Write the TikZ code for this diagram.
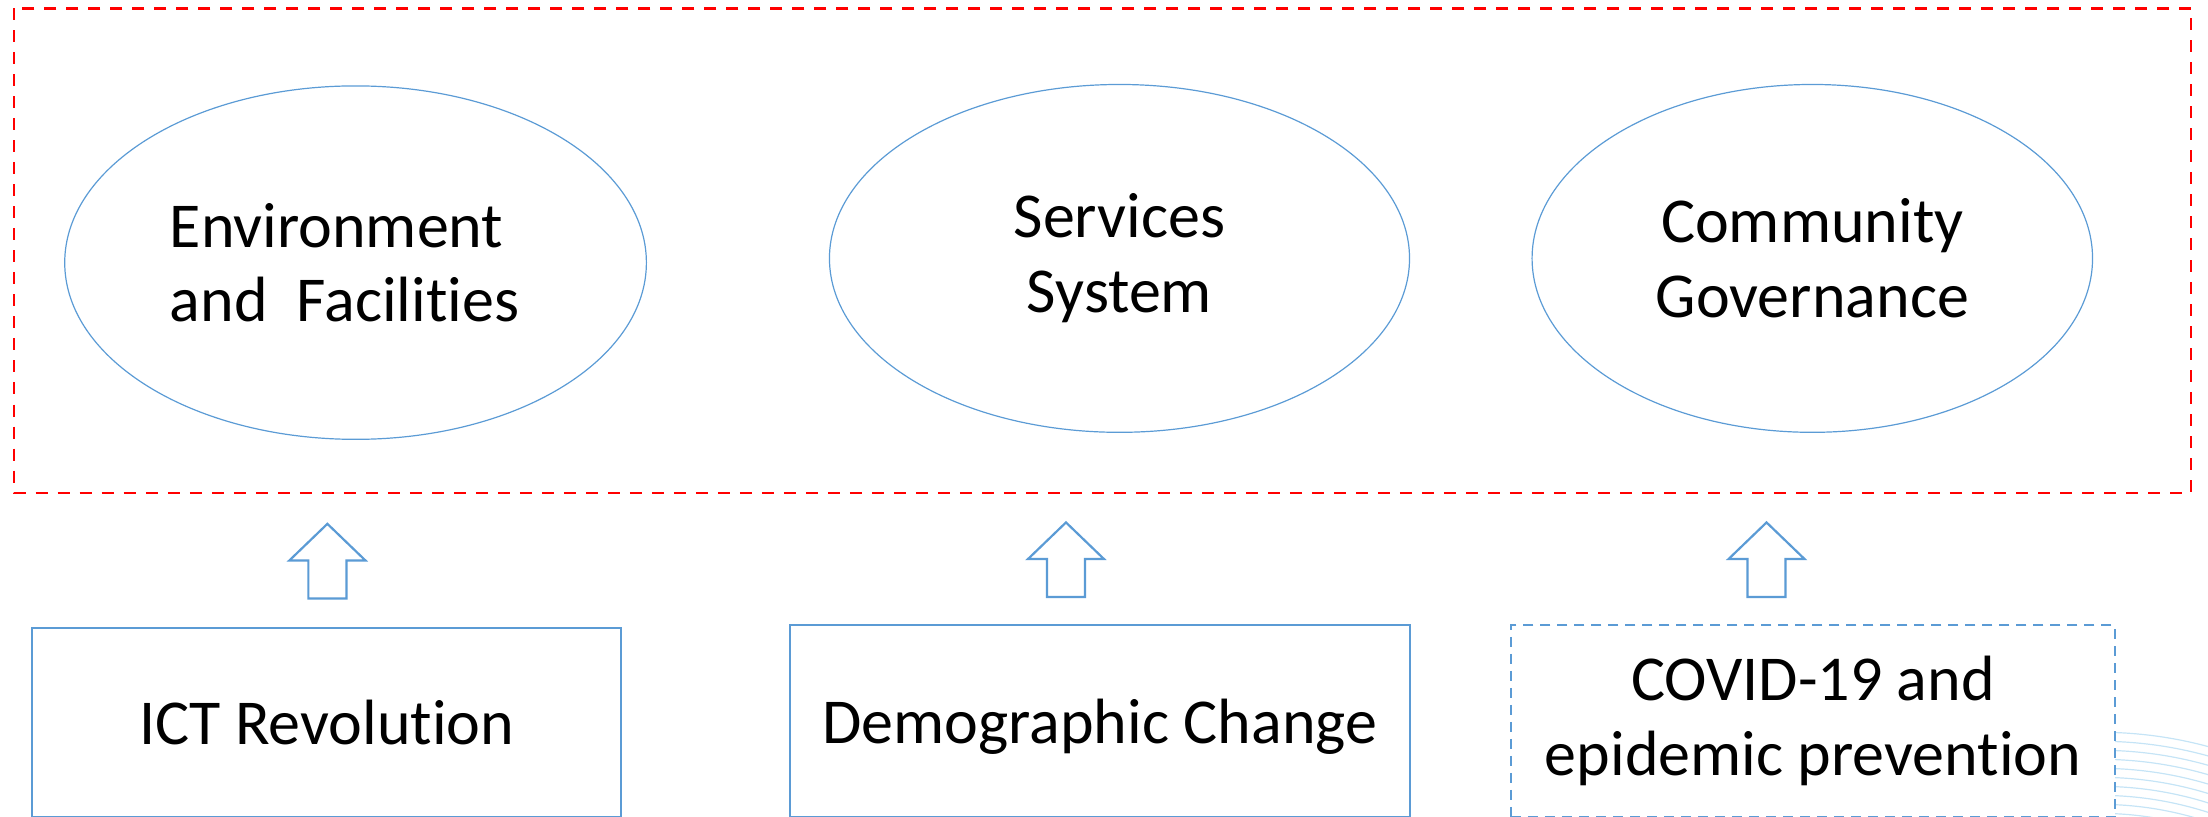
\documentclass[tikz,border=0pt]{standalone}
\usepackage{fontspec}
\setmainfont[Ligatures={NoCommon}]{Carlito}
\usetikzlibrary{shapes.geometric}
\definecolor{myblue}{HTML}{5B9BD5}
\definecolor{arcblue}{HTML}{C5E4F6}
\begin{document}
\begin{tikzpicture}[x=0.704pt,y=-0.704pt,
  every node/.style={font=\fontsize{32}{37.3}\selectfont},
  oval/.style={ellipse, draw=myblue, line width=0.6pt, inner sep=0pt, align=center},
  factor/.style={rectangle, draw=myblue, line width=1.1pt, fill=white, inner sep=0pt, align=center},
  reddash/.style={draw=red, line width=1.3pt, dash pattern=on 6pt off 5pt},
  bluedash/.style={dash pattern=on 5pt off 3.5pt},
  decoarc/.style={draw=arcblue, line width=0.6pt},
  uparrow/.pic={\draw[myblue, line width=1.1pt, fill=white, line join=miter]
     (-13.5,0) -- (-13.5,-27) -- (-27,-27) -- (0,-53) -- (27,-27) -- (13.5,-27) -- (13.5,0) -- cycle;}
]
\useasboundingbox (0,0) rectangle (1568,580);
% faint decorative arcs (bottom right)
\begin{scope}
  \clip (0,0) rectangle (1568,580);
  \foreach \r in {295,288.6,282.2,275.8,269.4,263,256.6,250.2,243.8,237.4}
    \draw[decoarc] (1491,815) circle[radius=\r];
\end{scope}
% dashed red frame
\draw[reddash] (10,6) rectangle (1556,350);
% ellipses
\node[oval, minimum width=290.8pt, minimum height=176.7pt, align=left] (env) at (252.5,186.5) {Environment\\and\ \ Facilities\hspace*{11pt}};
\node[oval, minimum width=290.0pt, minimum height=173.9pt] (serv) at (795,183.5) {Services\\System};
\node[oval, minimum width=280.2pt, minimum height=173.9pt] (gov) at (1287,183.5) {Community\\Governance};
% bottom boxes
\node[factor, minimum width=294.3pt, minimum height=94.3pt] (ict) at (232,513) {ICT Revolution};
\node[factor, text depth=0pt, minimum width=309.8pt, minimum height=95.7pt] (demo) at (781,512) {Demographic Change};
\node[factor, bluedash, minimum width=302.0pt, minimum height=95.7pt] (covid) at (1287.5,512) {COVID-19 and\\epidemic prevention};
% block arrows
\coordinate (a1) at (232.5,425);
\coordinate (a2) at (757,424);
\coordinate (a3) at (1254.5,424);
\pic at (a1) {uparrow};
\pic at (a2) {uparrow};
\pic at (a3) {uparrow};
\end{tikzpicture}
\end{document}
